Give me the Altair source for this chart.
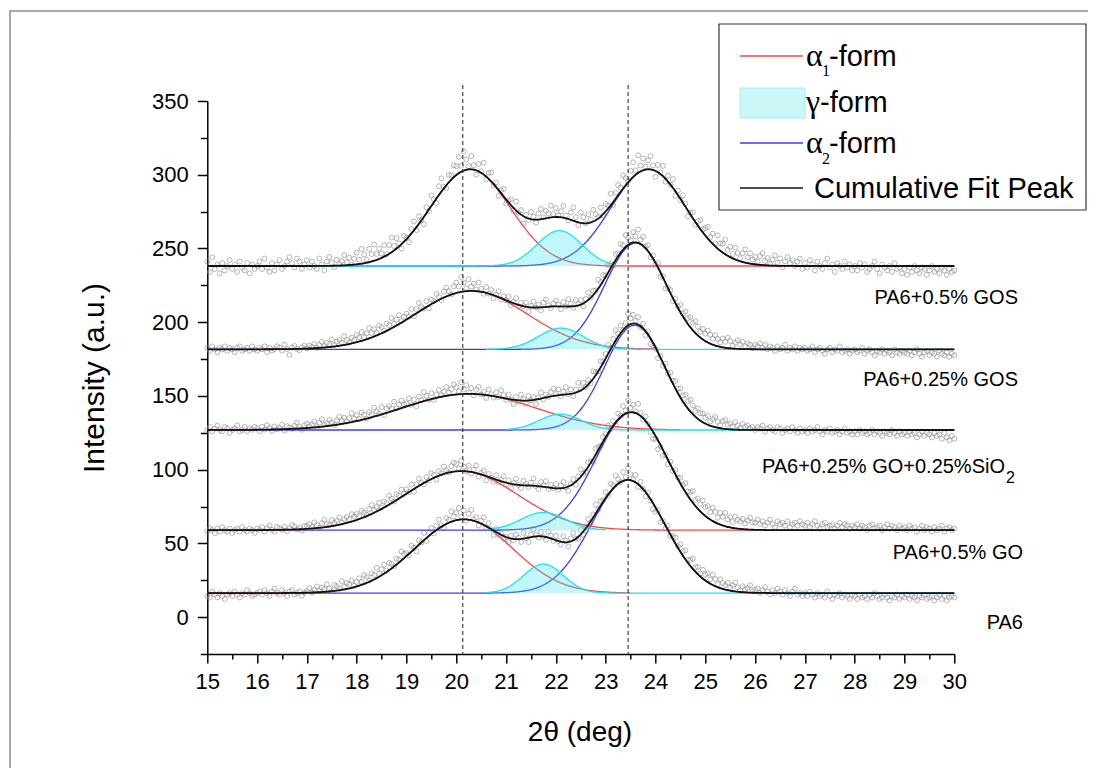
import numpy as np
import pandas as pd
import altair as alt

alt.data_transformers.disable_max_rows()

# ---------------- data ----------------
samples = ["PA6", "PA6+0.5% GO", "PA6+0.25% GO+0.25%SiO2", "PA6+0.25% GOS", "PA6+0.5% GOS"]
baseline = [16.3, 59.0, 126.9, 181.6, 238.1]
# fitted peak parameters (centre, height above baseline, gaussian width)
a1_center = [20.15, 20.10, 20.25, 20.30, 20.28]
a1_height = [50.0, 40.0, 24.5, 39.6, 65.6]
a1_width = [0.98, 1.12, 1.35, 1.12, 0.80]
g_center = [21.75, 21.75, 22.09, 22.10, 22.07]
g_height = [19.7, 12.0, 10.8, 14.4, 24.0]
g_width = [0.40, 0.45, 0.42, 0.45, 0.45]
a2_center = [23.45, 23.52, 23.58, 23.60, 23.86]
a2_height = [76.6, 79.7, 71.0, 72.0, 65.6]
a2_width = [0.74, 0.72, 0.60, 0.62, 0.75]
# x extent over which each component curve is drawn
red_end = [23.5, 30.0, 24.5, 24.0, 30.0]
cyan_start = [20.6, 20.6, 21.0, 20.6, 15.0]
cyan_end = [30.0, 23.0, 30.0, 30.0, 23.2]
peak_lines = [20.13, 23.45]
scan_start, scan_step, scan_n = 15.0, 0.05, 301
x_ticks = [15, 15.5, 16, 16.5, 17, 17.5, 18, 18.5, 19, 19.5, 20, 20.5, 21, 21.5, 22, 22.5,
           23, 23.5, 24, 24.5, 25, 25.5, 26, 26.5, 27, 27.5, 28, 28.5, 29, 29.5, 30]
y_ticks = [-25, 0, 25, 50, 75, 100, 125, 150, 175, 200, 225, 250, 275, 300, 325, 350]

# measured points minus cumulative fit, one row per degree (15.00 .. 29.95), then 30.00
res_pa6 = [
    [-2, -3, 1, -1, -3, 0, -2, -4, -1, 0, -2, 1, -1, -3, 0, -1, 2, 0, -2, -1],
    [0, 1, -1, 2, 0, -2, 1, 3, 0, -1, 2, 0, -2, 1, 2, -1, 0, 1, -2, 0],
    [1, 3, 0, 2, 4, 1, 3, 2, 5, 2, 0, 4, 3, 1, 6, 2, 4, 3, 5, 1],
    [3, 5, 2, 6, 4, 1, 5, 3, 7, 2, 4, 6, 1, 5, 3, 0, 4, 2, 6, 3],
    [2, -1, 4, 1, -3, 3, 0, 5, -2, 2, 4, -1, 3, 6, 1, -2, 4, 2, 7, 3],
    [5, 8, 2, 6, -1, 4, 7, 1, 3, -2, 2, 5, -1, 3, 0, -3, 2, -1, 1, -2],
    [0, -3, 2, -1, 3, 1, -2, 4, 0, -3, 2, 5, 1, -1, 3, 0, -2, 4, 2, -1],
    [3, 0, -2, 4, 1, -3, 2, 5, 0, -1, 3, -2, 1, 4, -1, 2, 6, 0, 3, 1],
    [4, -1, 5, 2, 7, 3, 0, 6, 2, 8, 4, 1, 5, -2, 3, 0, -3, 2, -1, -4],
    [-3, 1, -4, 0, -2, 3, -1, 2, 4, 1, 5, 3, 6, 2, 4, 7, 3, 5, 2, 6],
    [4, 6, 3, 7, 5, 2, 6, 4, 3, 5, 2, 4, 6, 3, 1, 4, 2, 3, 5, 1],
    [2, 3, 0, 2, 4, 1, -1, 2, 0, 3, 1, -1, 2, 0, -2, 1, 3, -1, 0, -2],
    [0, -2, 1, -1, -3, 0, -2, -1, -3, 1, -2, -4, -1, -2, 0, -3, -1, -2, -4, -1],
    [-2, -4, -1, -3, -2, -4, -1, -3, 0, -2, -4, -3, -1, -3, -5, -2, -3, -1, -4, -2],
    [-3, -1, -4, -2, -3, -5, -2, -3, -1, -4, -3, -2, -5, -3, -1, -4, -2, -5, -3, -2],
    [-3],
]
res_go = [
    [-1, 1, 0, -2, 1, -1, 2, 0, -1, 1, -2, 0, 1, -1, 2, 0, -1, 1, 0, -2],
    [1, 0, 2, -1, 1, 3, 0, -1, 2, 1, 0, 2, -1, 1, 3, 2, 0, 1, -1, 2],
    [2, 3, 1, 4, 2, 0, 3, 5, 2, 1, 4, 2, 3, 5, 1, 3, 4, 2, 5, 3],
    [4, 2, 5, 3, 1, 4, 6, 2, 3, 5, 1, 4, 2, 6, 3, 0, 4, 2, 5, 1],
    [3, 0, 4, -2, 2, 5, 1, -1, 3, 0, 4, 2, -2, 3, 1, 5, 2, 0, 4, 6],
    [5, 2, 7, 3, 0, 4, -1, 2, 5, -2, 1, 3, -3, 2, 0, -2, 3, -1, 1, 4],
    [-1, 2, -3, 1, 4, 0, -2, 3, 1, -1, 2, 5, 0, -2, 3, 1, 4, -1, 2, 0],
    [3, -1, 2, 4, 0, -3, 1, 3, -2, 2, 5, 0, -1, 3, 1, -2, 4, 2, 0, 3],
    [2, 5, 0, 3, -2, 4, 1, 6, 2, 8, 3, 5, 1, 7, 2, -1, 3, 0, -3, -5],
    [-2, -6, -1, -4, 0, -3, 2, -1, 3, 1, 4, 2, 6, 3, 5, 8, 4, 7, 5, 9],
    [6, 8, 5, 9, 7, 4, 8, 6, 9, 5, 7, 4, 8, 6, 5, 7, 4, 6, 8, 5],
    [5, 7, 4, 6, 3, 5, 7, 4, 2, 6, 4, 5, 3, 6, 2, 4, 5, 3, 6, 4],
    [3, 5, 2, 4, 6, 3, 1, 4, 5, 2, 3, 4, 1, 3, 5, 2, 4, 3, 1, 3],
    [2, 4, 1, 3, 2, 0, 3, 4, 1, 2, 3, 0, 2, 4, 1, 3, 2, 0, 3, 1],
    [2, 0, 3, 1, 2, -1, 1, 3, 0, 2, 1, -1, 2, 0, 1, 3, -1, 1, 2, 0],
    [1],
]
res_gosio = [
    [0, 2, -1, 1, 3, 0, -1, 2, 1, -2, 0, 1, 3, -1, 0, 2, -1, 1, 0, 2],
    [1, -1, 2, 0, 3, 1, -1, 2, 0, 1, 3, -1, 2, 1, 0, 2, 4, 1, -1, 2],
    [3, 1, 2, 4, 0, 3, 5, 1, 2, 4, 2, 0, 3, 5, 2, 4, 1, 3, 6, 2],
    [4, 1, 5, 3, 0, 4, 2, 6, 3, 1, 5, -1, 3, 4, 2, 6, 1, 3, 5, 2],
    [2, 5, 0, 3, -2, 4, 1, 6, 3, 0, 4, -1, 2, 5, 1, 3, 6, 2, 4, 7],
    [5, 2, 8, 3, 6, 1, 4, -1, 3, 5, 0, 2, -2, 4, 1, -1, 3, 0, 5, 2],
    [-1, 3, 0, -3, 2, -1, 4, 1, -2, 3, 0, 2, -3, 1, 4, -1, 2, 0, 3, 5],
    [1, 4, -1, 2, 5, 0, 3, -2, 2, 6, 1, 4, 0, 3, -1, 5, 2, 0, 4, 1],
    [3, 6, 1, 4, 7, 2, 5, 0, 3, 8, 4, 6, 2, 5, -1, 3, -3, 2, -4, -2],
    [-1, -4, 1, -2, 3, 0, 4, 2, 5, 3, 6, 4, 7, 5, 8, 6, 4, 7, 5, 6],
    [4, 6, 3, 5, 7, 4, 2, 5, 6, 3, 4, 2, 5, 3, 1, 4, 2, 3, 1, 2],
    [0, 2, 1, 3, -1, 1, 2, 0, -1, 2, 1, -2, 0, 1, -1, 2, 0, -2, 1, -1],
    [0, -2, 1, -1, 0, 2, -1, -3, 0, -1, 1, -2, -1, 0, -3, -1, 1, -2, -1, -3],
    [-1, -3, 0, -2, -1, -3, -2, 0, -3, -1, -2, -4, -1, -2, -3, 0, -2, -4, -1, -3],
    [-2, -4, -1, -3, -2, -5, -3, -1, -4, -2, -3, -5, -2, -4, -3, -6, -2, -5, -7, -4],
    [-6],
]
res_gos25 = [
    [1, -1, 2, 0, -2, 1, 0, 2, -1, 1, 0, -2, 1, 2, -1, 0, 1, -1, 2, 0],
    [-1, 1, 0, 2, -2, 1, -1, 0, 2, 1, -1, 3, 0, -4, 1, 2, 0, -1, 1, 2],
    [0, 2, 1, 3, 0, 2, 4, 1, 3, 2, 5, 1, 3, 4, 2, 6, 3, 1, 4, 2],
    [5, 3, 6, 2, 4, 7, 3, 5, 2, 6, 4, 1, 5, 3, 7, 2, 4, 6, 1, 3],
    [4, 1, 5, -1, 3, 6, 2, 0, 4, -2, 3, 1, 5, 2, -1, 4, 6, 3, 0, 5],
    [7, 4, 10, 6, 2, 8, 3, 5, 1, 6, 2, -1, 4, 0, 3, -2, 1, 4, -1, 2],
    [0, 3, -2, 1, 4, -1, 2, 0, 3, -3, 1, 4, 0, 2, -2, 3, 5, 1, -1, 2],
    [4, 1, -2, 3, 0, 5, 2, -1, 4, 1, 3, -2, 2, 5, 0, 3, 1, 6, 2, 4],
    [1, 5, 3, -1, 4, 2, 6, 3, 8, 5, 2, 7, 4, 9, 3, 6, 1, 4, -2, 2],
    [-1, 3, -3, 1, -4, 0, 2, -2, 3, 1, 5, 2, 6, 4, 7, 5, 8, 6, 4, 7],
    [5, 8, 6, 4, 7, 5, 3, 6, 4, 7, 5, 2, 4, 6, 3, 5, 2, 4, 3, 1],
    [3, 2, 4, 1, 3, 0, 2, 1, -1, 2, 0, 1, 3, -1, 1, 0, 2, -1, 1, 0],
    [1, -1, 0, 2, -2, 0, 1, -1, -3, 0, 1, -2, 0, -1, 2, -2, -1, 0, -3, -1],
    [0, -2, -1, 1, -3, -1, 0, -2, -4, -1, -2, 0, -3, -1, -2, -4, 0, -2, -3, -1],
    [-2, -3, -1, -4, -2, 0, -3, -5, -2, -1, -4, -2, -3, -5, -1, -3, -4, -2, -5, -3],
    [-4],
]
res_gos50 = [
    [3, -4, 6, -2, 1, -5, 2, -3, 0, 4, -2, 1, -4, 3, -1, -3, 2, -5, 1, -2],
    [0, 3, -2, 5, -1, -4, 2, -3, 1, 4, -2, 0, 3, 6, 2, -1, 5, 3, -2, 1],
    [4, -1, 3, 0, -2, 5, 1, -3, 3, 6, 2, -1, 4, 1, 3, 7, 2, 5, 0, 4],
    [8, 3, 10, 6, 2, 9, 5, 11, 4, 7, 3, 8, 1, 6, 10, 3, 7, 2, -3, 4],
    [1, -4, 3, 6, -2, 5, 0, -5, 4, -1, 7, 2, -3, 6, 9, 1, -2, 5, 3, 8],
    [6, 11, 4, 13, 7, 2, 9, 3, -3, 5, 1, 8, -2, 4, 6, -1, 3, -4, 2, 5],
    [-3, 1, 4, -2, 6, 0, 3, -5, 2, -1, 5, 2, -2, 4, 7, 1, 5, 3, 8, 2],
    [6, 1, 4, 8, 2, -1, 5, 9, 3, -2, 7, 4, 0, 6, 2, 8, 4, 1, 6, -1],
    [5, 2, 8, -2, 4, 7, 3, 9, 5, 1, 6, 10, 3, 12, 4, 8, 2, 6, 9, 3],
    [-4, 5, 1, 7, -2, 4, 0, 6, -3, 3, -1, 5, 2, -4, 1, 4, -2, 3, 6, 2],
    [5, 8, 3, 7, 2, 9, 5, 6, 10, 4, 7, 3, 8, 5, 2, 6, 9, 4, 7, 3],
    [5, 2, 6, 8, 3, 5, 1, 4, 7, 2, 5, -1, 3, 6, 2, 4, 0, 3, 5, -2],
    [2, -1, 4, 1, -3, 3, 0, -2, 2, 5, -1, 1, -4, 2, 0, -2, 3, -1, 1, -3],
    [0, -3, 2, -1, 1, -4, -2, 0, 3, -2, -5, 1, -1, -3, 0, -4, 2, -2, -1, -5],
    [-2, -6, -1, -4, 0, -3, -5, -1, -2, -6, -3, 0, -4, -2, -5, -1, -3, -6, -2, -4],
    [-3],
]
residuals = [res_pa6, res_go, res_gosio, res_gos25, res_gos50]

# ---------------- build tables ----------------
def peak(x, c, h, w):
    return h * np.exp(-((x - c) ** 2) / (2.0 * w * w))

xs = np.round(scan_start + scan_step * np.arange(scan_n), 2)
xf = np.round(np.linspace(15.0, 30.0, 751), 3)

pts, curves = [], []
for i, s in enumerate(samples):
    b = baseline[i]
    r = np.array([v for row in residuals[i] for v in row], dtype=float)
    fit_s = (b + peak(xs, a1_center[i], a1_height[i], a1_width[i])
             + peak(xs, g_center[i], g_height[i], g_width[i])
             + peak(xs, a2_center[i], a2_height[i], a2_width[i]))
    pts.append(pd.DataFrame({"x": xs, "y": fit_s + r, "sample": s}))
    p1 = peak(xf, a1_center[i], a1_height[i], a1_width[i])
    pg = peak(xf, g_center[i], g_height[i], g_width[i])
    p2 = peak(xf, a2_center[i], a2_height[i], a2_width[i])
    comps = {"a1": (p1, 15.0, red_end[i]), "g": (pg, cyan_start[i], cyan_end[i]),
             "a2": (p2, 15.0, 30.0), "sum": (p1 + pg + p2, 15.0, 30.0)}
    for name, (vals, lo, hi) in comps.items():
        m = (xf >= lo - 1e-9) & (xf <= hi + 1e-9)
        curves.append(pd.DataFrame({"x": xf[m], "y": b + vals[m], "yb": b,
                                    "sample": s, "comp": name}))
pts = pd.concat(pts, ignore_index=True)
curves = pd.concat(curves, ignore_index=True)

# ---------------- chart ----------------
W, H = 747, 553
OX, OY = 207.3, 101.0   # page position of plot origin
FONT = "Liberation Sans"

x_axis = alt.Axis(values=x_ticks, title=None, grid=False,
                  labelExpr="datum.value % 1 == 0 ? format(datum.value, 'd') : ''",
                  tickSize={"condition": {"test": "datum.value % 1 == 0", "value": 9}, "value": 5},
                  tickColor="black", tickWidth=1.5, domainColor="black", domainWidth=1.5,
                  labelFont=FONT, labelFontSize=22, labelColor="black", labelPadding=8,
                  labelOverlap=False, labelFlush=False)
y_axis = alt.Axis(values=y_ticks, title=None, grid=False,
                  labelExpr="datum.value % 50 == 0 ? format(datum.value, 'd') : ''",
                  tickSize={"condition": {"test": "datum.value % 50 == 0", "value": 10}, "value": 7},
                  tickColor="black", tickWidth=1.5, domainColor="black", domainWidth=1.5,
                  labelFont=FONT, labelFontSize=22, labelColor="black", labelPadding=9,
                  labelOverlap=False, labelFlush=False)
X = alt.X("x:Q", scale=alt.Scale(domain=[15, 30], nice=False, zero=False), axis=x_axis)
Y = alt.Y("y:Q", scale=alt.Scale(domain=[-25, 350], nice=False, zero=False), axis=y_axis)

dummy = pd.DataFrame({"k": [0]})


def vx(page_x):
    return alt.value(page_x - OX)


def vy(page_y):
    return alt.value(page_y - OY)


def txt(s, x, y, size, font=FONT, align="left", baseline="alphabetic", angle=0):
    return alt.Chart(dummy).mark_text(text=s, fontSize=size, font=font, align=align,
                                      baseline=baseline, color="black", angle=angle
                                      ).encode(x=vx(x), y=vy(y))


frame = alt.Chart(dummy).mark_rect(fillOpacity=0, stroke="#a8a8a8", strokeWidth=2).encode(
    x=vx(10), x2=vx(1300), y=vy(11), y2=vy(1000))

points = alt.Chart(pts).mark_point(shape="circle", filled=False, size=24, strokeWidth=0.9,
                                   color="#8a8a8a").encode(x=X, y=Y)

base_c = alt.Chart(curves)
blue = base_c.transform_filter(alt.datum.comp == "a2").mark_line(
    color="#3c3cec", strokeWidth=1.3).encode(x=X, y=Y, detail="sample:N")
red = base_c.transform_filter(alt.datum.comp == "a1").mark_line(
    color="#ee4c4c", strokeWidth=1.3).encode(x=X, y=Y, detail="sample:N")
cyan_area = base_c.transform_filter(alt.datum.comp == "g").mark_area(
    color="#33e6ee", opacity=0.3).encode(x=X, y=Y, y2="yb:Q", detail="sample:N")
cyan = base_c.transform_filter(alt.datum.comp == "g").mark_line(
    color="#22dfee", strokeWidth=1.3).encode(x=X, y=Y, detail="sample:N")
black = base_c.transform_filter(alt.datum.comp == "sum").mark_line(
    color="#111111", strokeWidth=1.8).encode(x=X, y=Y, detail="sample:N")

dash = alt.Chart(pd.DataFrame({"x": peak_lines})).mark_rule(
    color="#333333", strokeWidth=1.1, strokeDash=[4, 3]).encode(
    x=X, y=vy(85), y2=vy(654))

# legend
LS = 29
legend = [
    alt.Chart(dummy).mark_rect(fill="white", stroke="#333333", strokeWidth=1.2).encode(
        x=vx(719), x2=vx(1086), y=vy(24), y2=vy(210)),
    alt.Chart(dummy).mark_rule(color="#ee4c4c", strokeWidth=1.3).encode(x=vx(740), x2=vx(803), y=vy(56)),
    txt("α", 806, 66, 32, font="Liberation Serif"),
    txt("1", 822, 76, 16, font="Liberation Serif"),
    txt("-form", 829, 66, LS),
    alt.Chart(dummy).mark_rect(fill="#ccf7f8", stroke="#a6ecef", strokeWidth=1).encode(
        x=vx(740), x2=vx(805), y=vy(88), y2=vy(118)),
    txt("γ", 806, 112, 32, font="Liberation Serif"),
    txt("-form", 820, 112, LS),
    alt.Chart(dummy).mark_rule(color="#3c3cec", strokeWidth=1.3).encode(x=vx(740), x2=vx(803), y=vy(143)),
    txt("α", 806, 153, 32, font="Liberation Serif"),
    txt("2", 822, 164, 16, font="Liberation Serif"),
    txt("-form", 829, 153, LS),
    alt.Chart(dummy).mark_rule(color="#111111", strokeWidth=1.6).encode(x=vx(740), x2=vx(803), y=vy(188)),
    txt("Cumulative Fit Peak", 814, 198, LS),
]

labels = [
    txt(samples[4], 1018, 298, 20, align="right", baseline="middle"),
    txt(samples[3], 1018, 380, 20, align="right", baseline="middle"),
    txt(samples[2][:-1], 1005, 467, 20, align="right", baseline="middle"),
    txt(samples[2][-1], 1006, 478, 16, align="left", baseline="middle"),
    txt(samples[1], 1023, 553, 20, align="right", baseline="middle"),
    txt(samples[0], 1023, 623, 20, align="right", baseline="middle"),
    txt("2θ (deg)", 580, 733, 28, baseline="middle", align="center"),
    txt("Intensity (a.u.)", 95, 378, 30, baseline="middle", align="center", angle=270),
]

chart = alt.layer(frame, points, blue, red, cyan_area, cyan, black, dash, *legend, *labels).properties(
    width=W, height=H,
    padding={"left": OX - 8, "top": OY - 8, "right": 1080 - W - (OX - 8), "bottom": 760 - H - (OY - 8)},
    autosize=alt.AutoSizeParams(type="none"),
    background="white",
).configure_view(stroke=None)

chart.save("out.html", embed_options={"renderer": "svg", "actions": False})
